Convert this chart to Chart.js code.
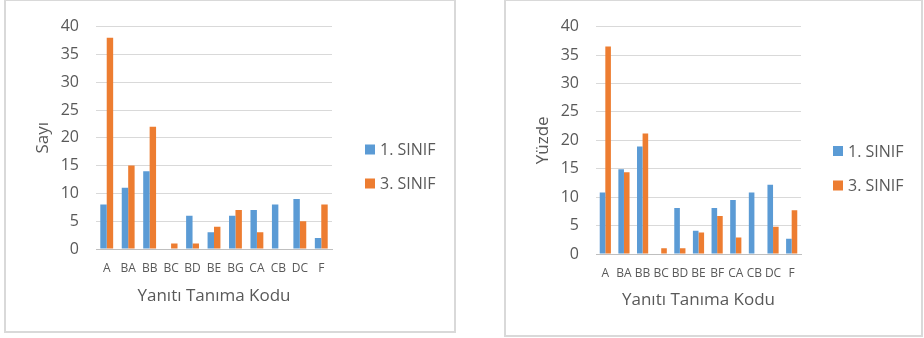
<!DOCTYPE html>
<html>
<head>
<meta charset="utf-8">
<script src="https://cdn.jsdelivr.net/npm/chart.js@4.4.1/dist/chart.umd.min.js"></script>
<style>
  html, body { margin: 0; padding: 0; background: #ffffff; }
  body { width: 924px; height: 338px; position: relative; overflow: hidden; }
  .box { position: absolute; border: 2px solid #d9d9d9; box-sizing: border-box; }
  .wrap { position: absolute; top: 0; height: 338px; }
</style>
</head>
<body>
<div class="box" style="left:4px; top:-1px; width:452px; height:334px;"></div>
<div class="box" style="left:504px; top:-1px; width:419px; height:338px;"></div>
<div class="wrap" style="left:0; width:500px;"><canvas id="c1" width="500" height="338"></canvas></div>
<div class="wrap" style="left:500px; width:424px;"><canvas id="c2" width="424" height="338"></canvas></div>
<script>
// ---- data ----
const countCategories = ['A', 'BA', 'BB', 'BC', 'BD', 'BE', 'BG', 'CA', 'CB', 'DC', 'F'];
const countSinif1 = [8, 11, 14, 0, 6, 3, 6, 7, 8, 9, 2];
const countSinif3 = [38, 15, 22, 1, 1, 4, 7, 3, 0, 5, 8];

const percentCategories = ['A', 'BA', 'BB', 'BC', 'BD', 'BE', 'BF', 'CA', 'CB', 'DC', 'F'];
const percentSinif1 = [10.8, 14.9, 18.9, 0, 8.1, 4.1, 8.1, 9.5, 10.8, 12.2, 2.7];
const percentSinif3 = [36.5, 14.4, 21.2, 1.0, 1.0, 3.8, 6.7, 2.9, 0, 4.8, 7.7];

const seriesLabels = ['1. SINIF', '3. SINIF'];
const yTickValues = [0, 5, 10, 15, 20, 25, 30, 35, 40];
const xAxisTitle = 'Yanıtı Tanıma Kodu';

// ---- styling ----
const FONT = '"Open Sans", "Liberation Sans", sans-serif';
const TEXT = '#595959';
const BLUE = '#5B9BD5';
const ORANGE = '#ED7D31';

const sideLegend = {
  id: 'sideLegend',
  afterDraw(chart, args, opts) {
    const ctx = chart.ctx;
    ctx.save();
    ctx.font = '16px ' + FONT;
    ctx.textBaseline = 'middle';
    ctx.textAlign = 'left';
    chart.data.datasets.forEach((ds, i) => {
      const y = opts.y[i];
      ctx.fillStyle = ds.backgroundColor;
      ctx.fillRect(opts.x, y - 5, 10, 10);
      ctx.fillStyle = TEXT;
      ctx.fillText(ds.label, opts.x + 15, y + 1);
    });
    ctx.restore();
  }
};

function makeChart(id, cats, s1, s3, yTitle, cfg) {
  return new Chart(document.getElementById(id), {
    type: 'bar',
    data: {
      labels: cats,
      datasets: [
        { label: seriesLabels[0], data: s1, backgroundColor: BLUE, borderWidth: 0 },
        { label: seriesLabels[1], data: s3, backgroundColor: ORANGE, borderWidth: 0 }
      ]
    },
    plugins: [sideLegend],
    options: {
      responsive: false,
      animation: false,
      events: [],
      layout: { padding: { left: 33, right: cfg.padRight, top: 22, bottom: 0 } },
      datasets: { bar: { categoryPercentage: 0.6, barPercentage: 1.0 } },
      plugins: {
        legend: { display: false },
        tooltip: { enabled: false },
        sideLegend: { x: cfg.legendX, y: cfg.legendY }
      },
      scales: {
        x: {
          grid: { display: false, drawTicks: false },
          border: { display: true, color: '#BFBFBF', width: 1 },
          ticks: { color: TEXT, font: { family: FONT, size: 12 }, padding: cfg.xTickPad, maxRotation: 0, autoSkip: false },
          title: { display: true, text: xAxisTitle, color: TEXT, font: { family: FONT, size: 17 }, padding: { top: 0, bottom: cfg.xTitlePad } },
          afterFit(scale) { scale.height = cfg.xHeight; }
        },
        y: {
          min: 0, max: 40,
          afterBuildTicks(scale) { scale.ticks = yTickValues.map(v => ({ value: v })); },
          grid: { color: '#D9D9D9', drawTicks: false },
          border: { display: false },
          ticks: { color: TEXT, font: { family: FONT, size: 16 }, padding: 17 },
          title: { display: true, text: yTitle, color: TEXT, font: { family: FONT, size: 17 }, padding: { top: 0, bottom: 0 } },
          afterFit(scale) { scale.width = 63; }
        }
      }
    }
  });
}

makeChart('c1', countCategories, countSinif1, countSinif3, 'Sayı', {
  padRight: 500 - 332, legendX: 365, legendY: [149.5, 183.5],
  xHeight: 338 - 249, xTitlePad: 32, xTickPad: 12
});
makeChart('c2', percentCategories, percentSinif1, percentSinif3, 'Yüzde', {
  padRight: 424 - 301, legendX: 333, legendY: [151, 185.5],
  xHeight: 338 - 254, xTitlePad: 28, xTickPad: 12
});
</script>
</body>
</html>
